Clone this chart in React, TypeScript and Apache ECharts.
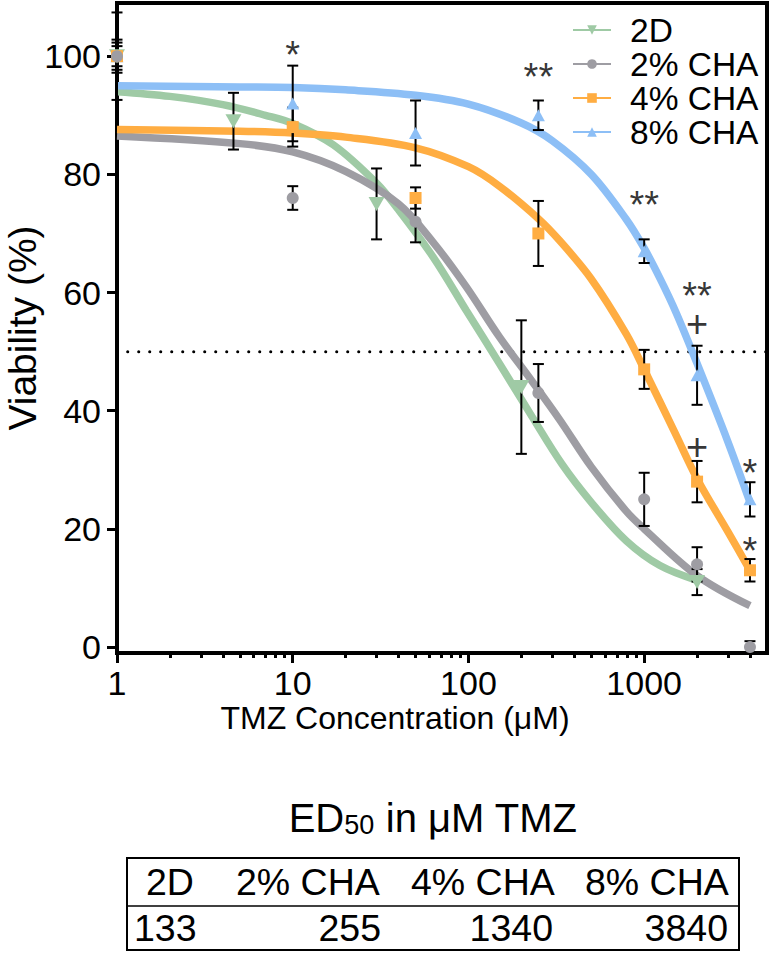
import { useEffect, useRef } from 'react';
import * as echarts from 'echarts';

const FONT = '"Liberation Sans", Arial, Helvetica, sans-serif';

const seriesNames = ['2D', '2% CHA', '4% CHA', '8% CHA'];
const seriesColors = ['#9fcaa5', '#9e9da3', '#ffad42', '#8dbff6'];

// measured points (mean ± error)
const doses2D = [1, 4.6, 30, 200, 2000];
const mean2D = [100, 89, 75, 44, 11];
const err2D = [7.4, 4.8, 6, 11.3, 2.2];

const doses2 = [1, 10, 50, 250, 1000, 2000, 4000];
const mean2 = [100, 76, 72, 43, 25, 14, 0];
const err2 = [2.8, 2, 3.5, 4.9, 4.5, 2.9, 1];

const doses4 = [1, 10, 50, 250, 1000, 2000, 4000];
const mean4 = [100, 88, 76, 70, 47, 28, 13];
const err4 = [2.3, 3.3, 1.8, 5.5, 3.3, 3.5, 1.9];

const doses8 = [1, 10, 50, 250, 1000, 2000, 4000];
const mean8 = [100, 92, 87, 90, 67, 46, 25];
const err8 = [1.7, 6.4, 5.5, 2.5, 2, 5, 2.9];

// fitted curves
const curveX2D = [1, 2, 4, 7, 10, 17, 30, 40, 63, 97, 150, 230, 340, 500, 790, 1230, 2000];
const curveY2D = [94, 93.2, 91.8, 90, 88.6, 85, 78.5, 74, 66, 57, 48, 39, 31, 24.5, 18, 13.8, 11.3];

const curveX2 = [1, 5, 10, 20, 40, 63, 97, 150, 230, 330, 500, 790, 1000, 2000, 4000];
const curveY2 = [86.5, 85.2, 83.8, 80.5, 75, 68.5, 61, 52.5, 45, 38.5, 30.5, 23, 20, 12.1, 7];

const curveX4 = [1, 5, 10, 20, 50, 100, 150, 250, 330, 500, 790, 1000, 1500, 2000, 3000, 4000];
const curveY4 = [87.6, 87.3, 87, 86.3, 84.5, 81.3, 78, 72.5, 68.8, 62.3, 53, 47, 36.2, 28.5, 19.5, 13];

const curveX8 = [1, 5, 10, 20, 50, 100, 200, 300, 500, 790, 1000, 1230, 1520, 2000, 3000, 4000];
const curveY8 = [95, 94.8, 94.7, 94.3, 93.4, 91.9, 88.7, 85.7, 80, 72.4, 67.5, 62.4, 56.6, 48, 34.7, 24.5];

// significance marks
const markX = [10, 250, 1000, 2000, 2000, 2000, 4000, 4000];
const markY = [100.2, 96.5, 74.8, 59.5, 54.7, 33.8, 29.5, 16.3];
const markText = ['*', '**', '**', '**', '+', '+', '*', '*'];

const halfLine = 50;

const yTicks = [0, 20, 40, 60, 80, 100];
const xMajor = [1, 10, 100, 1000];
const xMinor = [2, 3, 4, 5, 6, 7, 8, 9, 20, 30, 40, 50, 60, 70, 80, 90, 200, 300, 400, 500, 600, 700, 800, 900, 2000, 3000, 4000];

// ED50 table
const edGroups = ['2D', '2% CHA', '4% CHA', '8% CHA'];
const edValues = [133, 255, 1340, 3840];

const zip = (xs: number[], ys: number[]) => xs.map((x, i) => [x, ys[i]]);

function errorSeries(name: string, xs: number[], ys: number[], es: number[]) {
  return {
    type: 'custom',
    name: name + ' error',
    silent: true,
    z: 3,
    clip: false,
    data: xs.map((x, i) => [x, ys[i], es[i]]),
    renderItem: (_params: any, api: any) => {
      const x = api.value(0);
      const y = api.value(1);
      const e = api.value(2);
      const top = api.coord([x, y + e]);
      const bot = api.coord([x, y - e]);
      const hw = 5.5;
      const style = { stroke: '#000', lineWidth: 2, fill: null };
      return {
        type: 'group',
        children: [
          { type: 'line', shape: { x1: top[0], y1: top[1], x2: bot[0], y2: bot[1] }, style },
          { type: 'line', shape: { x1: top[0] - hw, y1: top[1], x2: top[0] + hw, y2: top[1] }, style },
          { type: 'line', shape: { x1: bot[0] - hw, y1: bot[1], x2: bot[0] + hw, y2: bot[1] }, style },
        ],
      };
    },
  };
}

export default function App() {
  const ref = useRef<HTMLDivElement>(null);
  useEffect(() => {
    if (!ref.current) return;
    const chart = echarts.init(ref.current, undefined, { renderer: 'svg' });

    const symbols = ['triangle', 'circle', 'rect', 'triangle'];
    const rotations = [180, 0, 0, 0];
    const sizes: any[] = [[16, 14], 12, 12, [13, 12]];
    const curves = [
      zip(curveX2D, curveY2D),
      zip(curveX2, curveY2),
      zip(curveX4, curveY4),
      zip(curveX8, curveY8),
    ];
    const points = [
      [doses2D, mean2D, err2D],
      [doses2, mean2, err2],
      [doses4, mean4, err4],
      [doses8, mean8, err8],
    ];

    const curveSeries = seriesNames.map((n, i) => ({
      type: 'line',
      name: n,
      data: curves[i],
      smooth: 0.35,
      showSymbol: false,
      symbol: symbols[i],
      symbolRotate: rotations[i],
      color: seriesColors[i],
      lineStyle: { width: 7.5, color: seriesColors[i] },
      itemStyle: { color: seriesColors[i] },
      z: 2,
      silent: true,
    }));

    const errSeries = seriesNames.map((n, i) =>
      errorSeries(n, points[i][0], points[i][1], points[i][2])
    );

    const drawOrder = [0, 3, 2, 1];
    const pointSeries = drawOrder.map((i) => ({
      type: 'scatter',
      name: seriesNames[i] + ' points',
      data: zip(points[i][0], points[i][1]),
      symbol: symbols[i],
      symbolRotate: rotations[i],
      symbolSize: sizes[i],
      itemStyle: { color: seriesColors[i], opacity: 1 },
      z: 4,
      silent: true,
    }));

    const option: any = {
      animation: false,
      backgroundColor: '#ffffff',
      textStyle: { fontFamily: FONT, color: '#000' },
      grid: {
        left: 117,
        right: 5,
        top: 3,
        bottom: 307,
        containLabel: false,
        outerBoundsMode: 'none',
        show: true,
        borderColor: '#000',
        borderWidth: 4,
        backgroundColor: 'transparent',
      },
      legend: {
        data: seriesNames,
        orient: 'vertical',
        left: 567,
        top: 8,
        itemWidth: 38,
        itemHeight: 12,
        itemGap: 0,
        selectedMode: false,
        formatter: (n: string) => `{t|${n}}`,
        textStyle: {
          rich: {
            t: { fontSize: 33.5, fontFamily: FONT, color: '#000', lineHeight: 32.7, padding: [0, 0, 0, 14] },
          },
        },
      },
      xAxis: [
        {
          type: 'log',
          logBase: 10,
          min: 1,
          max: 5000,
          position: 'bottom',
          axisLine: { show: true, onZero: false, lineStyle: { color: '#000', width: 4 } },
          axisTick: { show: true, customValues: xMajor, length: 10, lineStyle: { color: '#000', width: 3 } },
          axisLabel: {
            customValues: xMajor,
            fontSize: 34,
            lineHeight: 28,
            fontFamily: FONT,
            color: '#000',
            margin: 16,
            formatter: (v: number) => String(Math.round(v)),
          },
          splitLine: { show: false },
          minorTick: { show: false },
          name: 'TMZ Concentration (\u03bcM)',
          nameLocation: 'middle',
          nameGap: 51,
          nameMoveOverlap: false,
          nameTextStyle: { fontSize: 32, lineHeight: 28, fontFamily: FONT, color: '#000', padding: [0, 94, 0, 0] },
        },
        {
          type: 'log',
          logBase: 10,
          min: 1,
          max: 5000,
          position: 'bottom',
          gridIndex: 0,
          axisLine: { show: false, onZero: false },
          axisTick: { show: true, customValues: xMinor, length: 5, lineStyle: { color: '#000', width: 3 } },
          axisLabel: { show: false },
          splitLine: { show: false },
        },
      ],
      yAxis: {
        type: 'value',
        min: -1,
        max: 109,
        axisLine: { show: true, onZero: false, lineStyle: { color: '#000', width: 4 } },
        axisTick: { show: true, customValues: yTicks, length: 10, lineStyle: { color: '#000', width: 3 } },
        axisLabel: { customValues: yTicks, fontSize: 34, fontFamily: FONT, color: '#000', margin: 16 },
        splitLine: { show: false },
        name: 'Viability (%)',
        nameLocation: 'middle',
        nameRotate: 90,
        nameGap: 78,
        nameMoveOverlap: false,
        nameTextStyle: { fontSize: 39, lineHeight: 34, fontFamily: FONT, color: '#000' },
      },
      series: [
        {
          type: 'line',
          name: 'half',
          data: [[1.15, halfLine], [5000, halfLine]],
          showSymbol: false,
          symbol: 'none',
          lineStyle: { color: '#000', width: 3, type: [0.1, 10.9], cap: 'round' },
          z: 1,
          silent: true,
        },
        ...curveSeries,
        ...errSeries,
        ...pointSeries,
        {
          type: 'scatter',
          name: 'marks',
          symbolSize: 0,
          z: 5,
          silent: true,
          data: markX.map((x, i) => ({ value: [x, markY[i]], name: markText[i] })),
          label: {
            show: true,
            position: 'inside',
            formatter: '{b}',
            fontSize: 38,
            lineHeight: 22,
            fontFamily: FONT,
            color: '#000',
          },
        },
      ],
      graphic: [
        {
          type: 'text',
          x: 433,
          y: 815,
          style: {
            text: '{a|ED}{b|50}{a| in \u03bcM TMZ}',
            textAlign: 'center',
            textVerticalAlign: 'middle',
            rich: {
              a: { fontSize: 40, fontFamily: FONT, fill: '#000', lineHeight: 46, verticalAlign: 'bottom' },
              b: { fontSize: 27, fontFamily: FONT, fill: '#000', lineHeight: 20, verticalAlign: 'bottom' },
            },
          },
        },
        {
          type: 'rect',
          shape: { x: 127, y: 858, width: 612, height: 92 },
          style: { fill: 'none', stroke: '#000', lineWidth: 2 },
        },
        {
          type: 'line',
          shape: { x1: 127, y1: 906, x2: 739, y2: 906 },
          style: { stroke: '#000', lineWidth: 1.5 },
        },
        ...edGroups.map((g, i) => ({
          type: 'text',
          x: [146, 236, 411, 585][i],
          y: 882,
          style: { text: g, font: `37.5px ${FONT}`, fill: '#000', textAlign: 'left', textVerticalAlign: 'middle' },
        })),
        ...edValues.map((v, i) => ({
          type: 'text',
          x: [134, 381, 553, 728][i],
          y: 928,
          style: {
            text: String(v),
            font: `37.5px ${FONT}`,
            fill: '#000',
            textAlign: i === 0 ? 'left' : 'right',
            textVerticalAlign: 'middle',
          },
        })),
      ],
    };

    chart.setOption(option);
    return () => chart.dispose();
  }, []);

  return (
    <div
      ref={ref}
      style={{ position: 'absolute', left: 0, top: 0, width: 772, height: 960, background: '#fff' }}
    />
  );
}
